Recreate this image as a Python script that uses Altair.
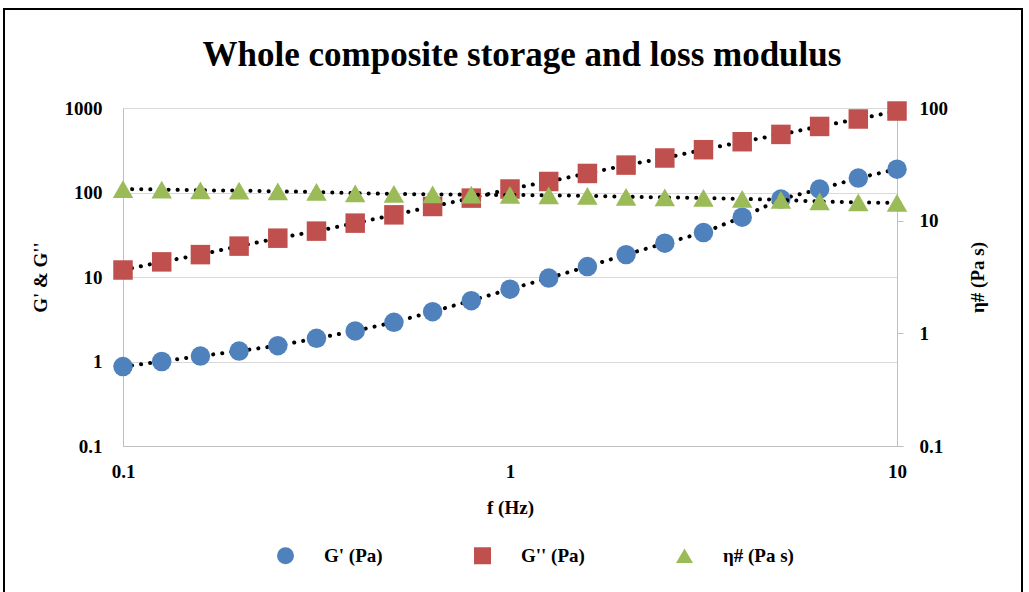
import altair as alt
import pandas as pd

# ---- data ----
freq = [0.1, 0.1259, 0.1585, 0.1995, 0.2512, 0.3162, 0.3981, 0.5012, 0.631, 0.7943,
        1.0, 1.259, 1.585, 1.995, 2.512, 3.162, 3.981, 5.012, 6.31, 7.943, 10.0]
g_storage = [0.87, 1.0, 1.16, 1.33, 1.54, 1.88, 2.30, 2.91, 3.89, 5.25,
             7.17, 9.7, 13.3, 18.4, 25.1, 33.6, 51.1, 83.5, 109.7, 148, 189]
g_loss = [12.1, 15.1, 18.4, 23.2, 28.8, 34.9, 43.4, 54.4, 68.3, 85.8,
          110, 135, 168, 211, 256, 321, 399, 487, 605, 741, 921]
eta = [19.1, 18.9, 18.6, 18.5, 18.2, 18.0, 17.5, 17.3, 17.1, 17.0,
       16.9, 16.8, 16.6, 16.3, 16.1, 15.9, 15.6, 15.3, 14.8, 14.5, 14.4]

series_names = ["G' (Pa)", "G'' (Pa)", "η# (Pa s)"]
series_colors = ["#4F81BD", "#C0504D", "#9BBB59"]
series_shapes = ["circle", "square", "triangle-up"]
left_ticks = [0.1, 1, 10, 100, 1000]
right_ticks = [0.1, 1, 10, 100]
x_ticks = [0.1, 1, 10]

left_df = pd.DataFrame({
    "f": freq * 2,
    "v": g_storage + g_loss,
    "series": [series_names[0]] * len(freq) + [series_names[1]] * len(freq),
})
right_df = pd.DataFrame({"f": freq, "v": eta, "series": [series_names[2]] * len(freq)})

FONT = "Liberation Serif"

x_enc = alt.X(
    "f:Q",
    scale=alt.Scale(type="log", domain=[0.1, 10]),
    axis=alt.Axis(values=x_ticks, format="~g", title="f (Hz)", ticks=False, tickSize=0,
                  labelPadding=16, labelFlush=False, grid=False, domainColor="#BFBFBF",
                  labelFont=FONT, labelFontSize=19, labelFontWeight="bold", labelColor="black",
                  titleFont=FONT, titleFontSize=19, titleFontWeight="bold", titleColor="black",
                  titlePadding=17),
)

color_enc = alt.Color("series:N", scale=alt.Scale(domain=series_names, range=series_colors),
                      legend=alt.Legend(title=None, orient="none", legendX=153, legendY=438,
                                        direction="horizontal", columns=3, symbolSize=289,
                                        labelFont=FONT, labelFontSize=19, labelFontWeight="bold",
                                        labelColor="black", columnPadding=90, labelOffset=29,
                                        padding=0, symbolStrokeWidth=0, symbolOpacity=1))
shape_enc = alt.Shape("series:N", scale=alt.Scale(domain=series_names, range=series_shapes))

left_y = alt.Y(
    "v:Q",
    scale=alt.Scale(type="log", domain=[0.1, 1000]),
    axis=alt.Axis(values=left_ticks, format="~g", title="G' & G''", ticks=False, tickSize=0,
                  labelPadding=21, labelFlush=False, grid=True, gridColor="#D9D9D9",
                  domainColor="#BFBFBF",
                  labelFont=FONT, labelFontSize=19, labelFontWeight="bold", labelColor="black",
                  titleFont=FONT, titleFontSize=19, titleFontWeight="bold", titleColor="black",
                  titlePadding=14),
)
right_y = alt.Y(
    "v:Q",
    scale=alt.Scale(type="log", domain=[0.1, 100]),
    axis=alt.Axis(values=right_ticks, format="~g", title="η# (Pa s)", orient="right",
                  ticks=True, tickSize=6, tickColor="#BFBFBF", labelPadding=16,
                  labelFlush=False, grid=False, domainColor="#BFBFBF", titleAngle=270,
                  labelFont=FONT, labelFontSize=19, labelFontWeight="bold", labelColor="black",
                  titleFont=FONT, titleFontSize=19, titleFontWeight="bold", titleColor="black",
                  titlePadding=40),
)

dots = dict(color="black", strokeDash=[0.1, 9], strokeWidth=4, strokeCap="round")

left_line = alt.Chart(left_df).mark_line(**dots).encode(x=x_enc, y=left_y, detail="series:N")
left_pts = alt.Chart(left_df).mark_point(filled=True, size=380, opacity=1, strokeWidth=0).encode(
    x=x_enc, y=left_y, color=color_enc, shape=shape_enc)
right_line = alt.Chart(right_df).mark_line(**dots).encode(x=x_enc, y=right_y)
right_pts = alt.Chart(right_df).mark_point(filled=True, size=420, opacity=1, strokeWidth=0).encode(
    x=x_enc, y=right_y, color=color_enc, shape=shape_enc)

frame = alt.Chart(pd.DataFrame({"a": [0]})).mark_rect(
    fill=None, stroke="black", strokeWidth=2).encode(
    x=alt.value(-119), x2=alt.value(899), y=alt.value(-99), y2=alt.value(520))

left = alt.layer(left_line, left_pts)
right = alt.layer(right_line, right_pts)

chart = alt.layer(frame, left, right).resolve_scale(y="independent").properties(
    width=774, height=338,
    title=alt.TitleParams("Whole composite storage and loss modulus", font=FONT, fontSize=35,
                          fontWeight="bold", color="black", anchor="middle", frame="group",
                          baseline="alphabetic", offset=-93, dx=12),
    autosize=alt.AutoSizeParams(type="none"),
    padding={"left": 123, "top": 108, "right": 132, "bottom": 146},
).configure_view(stroke=None).configure(background="white")

chart.save("out.html", embed_options={"renderer": "svg", "actions": False})
